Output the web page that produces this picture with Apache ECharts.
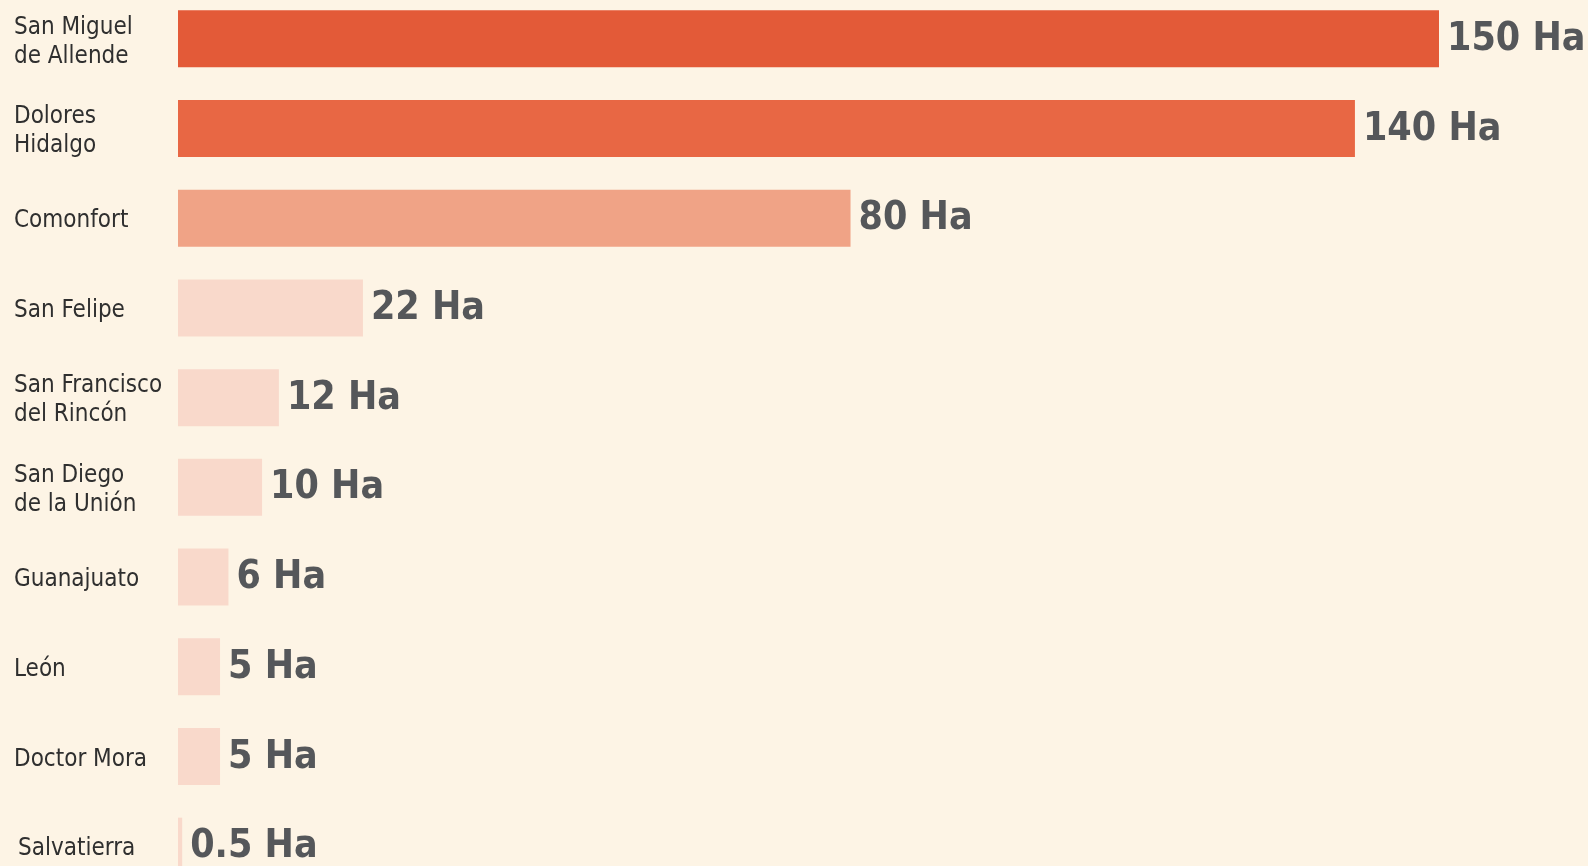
<!DOCTYPE html>
<html>
<head>
<meta charset="utf-8">
<script src="https://cdn.jsdelivr.net/npm/echarts@6/dist/echarts.min.js"></script>
<style>
html,body{margin:0;padding:0;background:#fdf4e5;}
#c{width:1588px;height:866px;}
</style>
</head>
<body>
<div id="c"></div>
<script>
const categories = ["San Miguel\nde Allende", "Dolores\nHidalgo", "Comonfort", "San Felipe", "San Francisco\ndel Rincón", "San Diego\nde la Unión", "Guanajuato", "León", "Doctor Mora", "Salvatierra"];
const hectares = [150, 140, 80, 22, 12, 10, 6, 5, 5, 0.5];
const unit = " Ha";
const palette = ["#e35a38", "#e86744", "#f0a386", "#f9d9cb", "#f9d9cb", "#f9d9cb", "#f9d9cb", "#f9d9cb", "#f9d9cb", "#f9d9cb"];

const FONT = "'DejaVu Sans Condensed', 'Liberation Sans Narrow', 'Roboto', sans-serif";
const chart = echarts.init(document.getElementById('c'));
chart.setOption({
  backgroundColor: '#fdf4e5',
  animation: false,
  grid: { left: 178, top: -6, width: 1261, height: 897, containLabel: false, outerBoundsMode: 'none' },
  xAxis: { type: 'value', min: 0, max: 150, show: false },
  yAxis: {
    type: 'category', data: categories, inverse: true,
    axisLine: { show: false }, axisTick: { show: false }, splitLine: { show: false },
    axisLabel: {
      align: 'left', margin: 164, color: '#2f2f2f',
      fontFamily: FONT, fontSize: 24, lineHeight: 29,
      padding: [6, 0, 0, 0],
      formatter: (v, i) => i === categories.length - 1 ? '{s|' + v + '}' : v,
      rich: { s: { fontFamily: FONT, fontSize: 24, color: '#2f2f2f', padding: [0, 0, 0, 4] } }
    }
  },
  series: [{
    type: 'bar', barWidth: 57,
    data: hectares.map((v, i) => ({ value: v, itemStyle: { color: palette[i] } })),
    label: {
      show: true, position: 'right', distance: 8,
      formatter: p => p.value + unit,
      color: '#55575a', fontFamily: FONT, fontWeight: 'bold', fontSize: 39,
      offset: [0, 1]
    }
  }]
});
</script>
</body>
</html>
